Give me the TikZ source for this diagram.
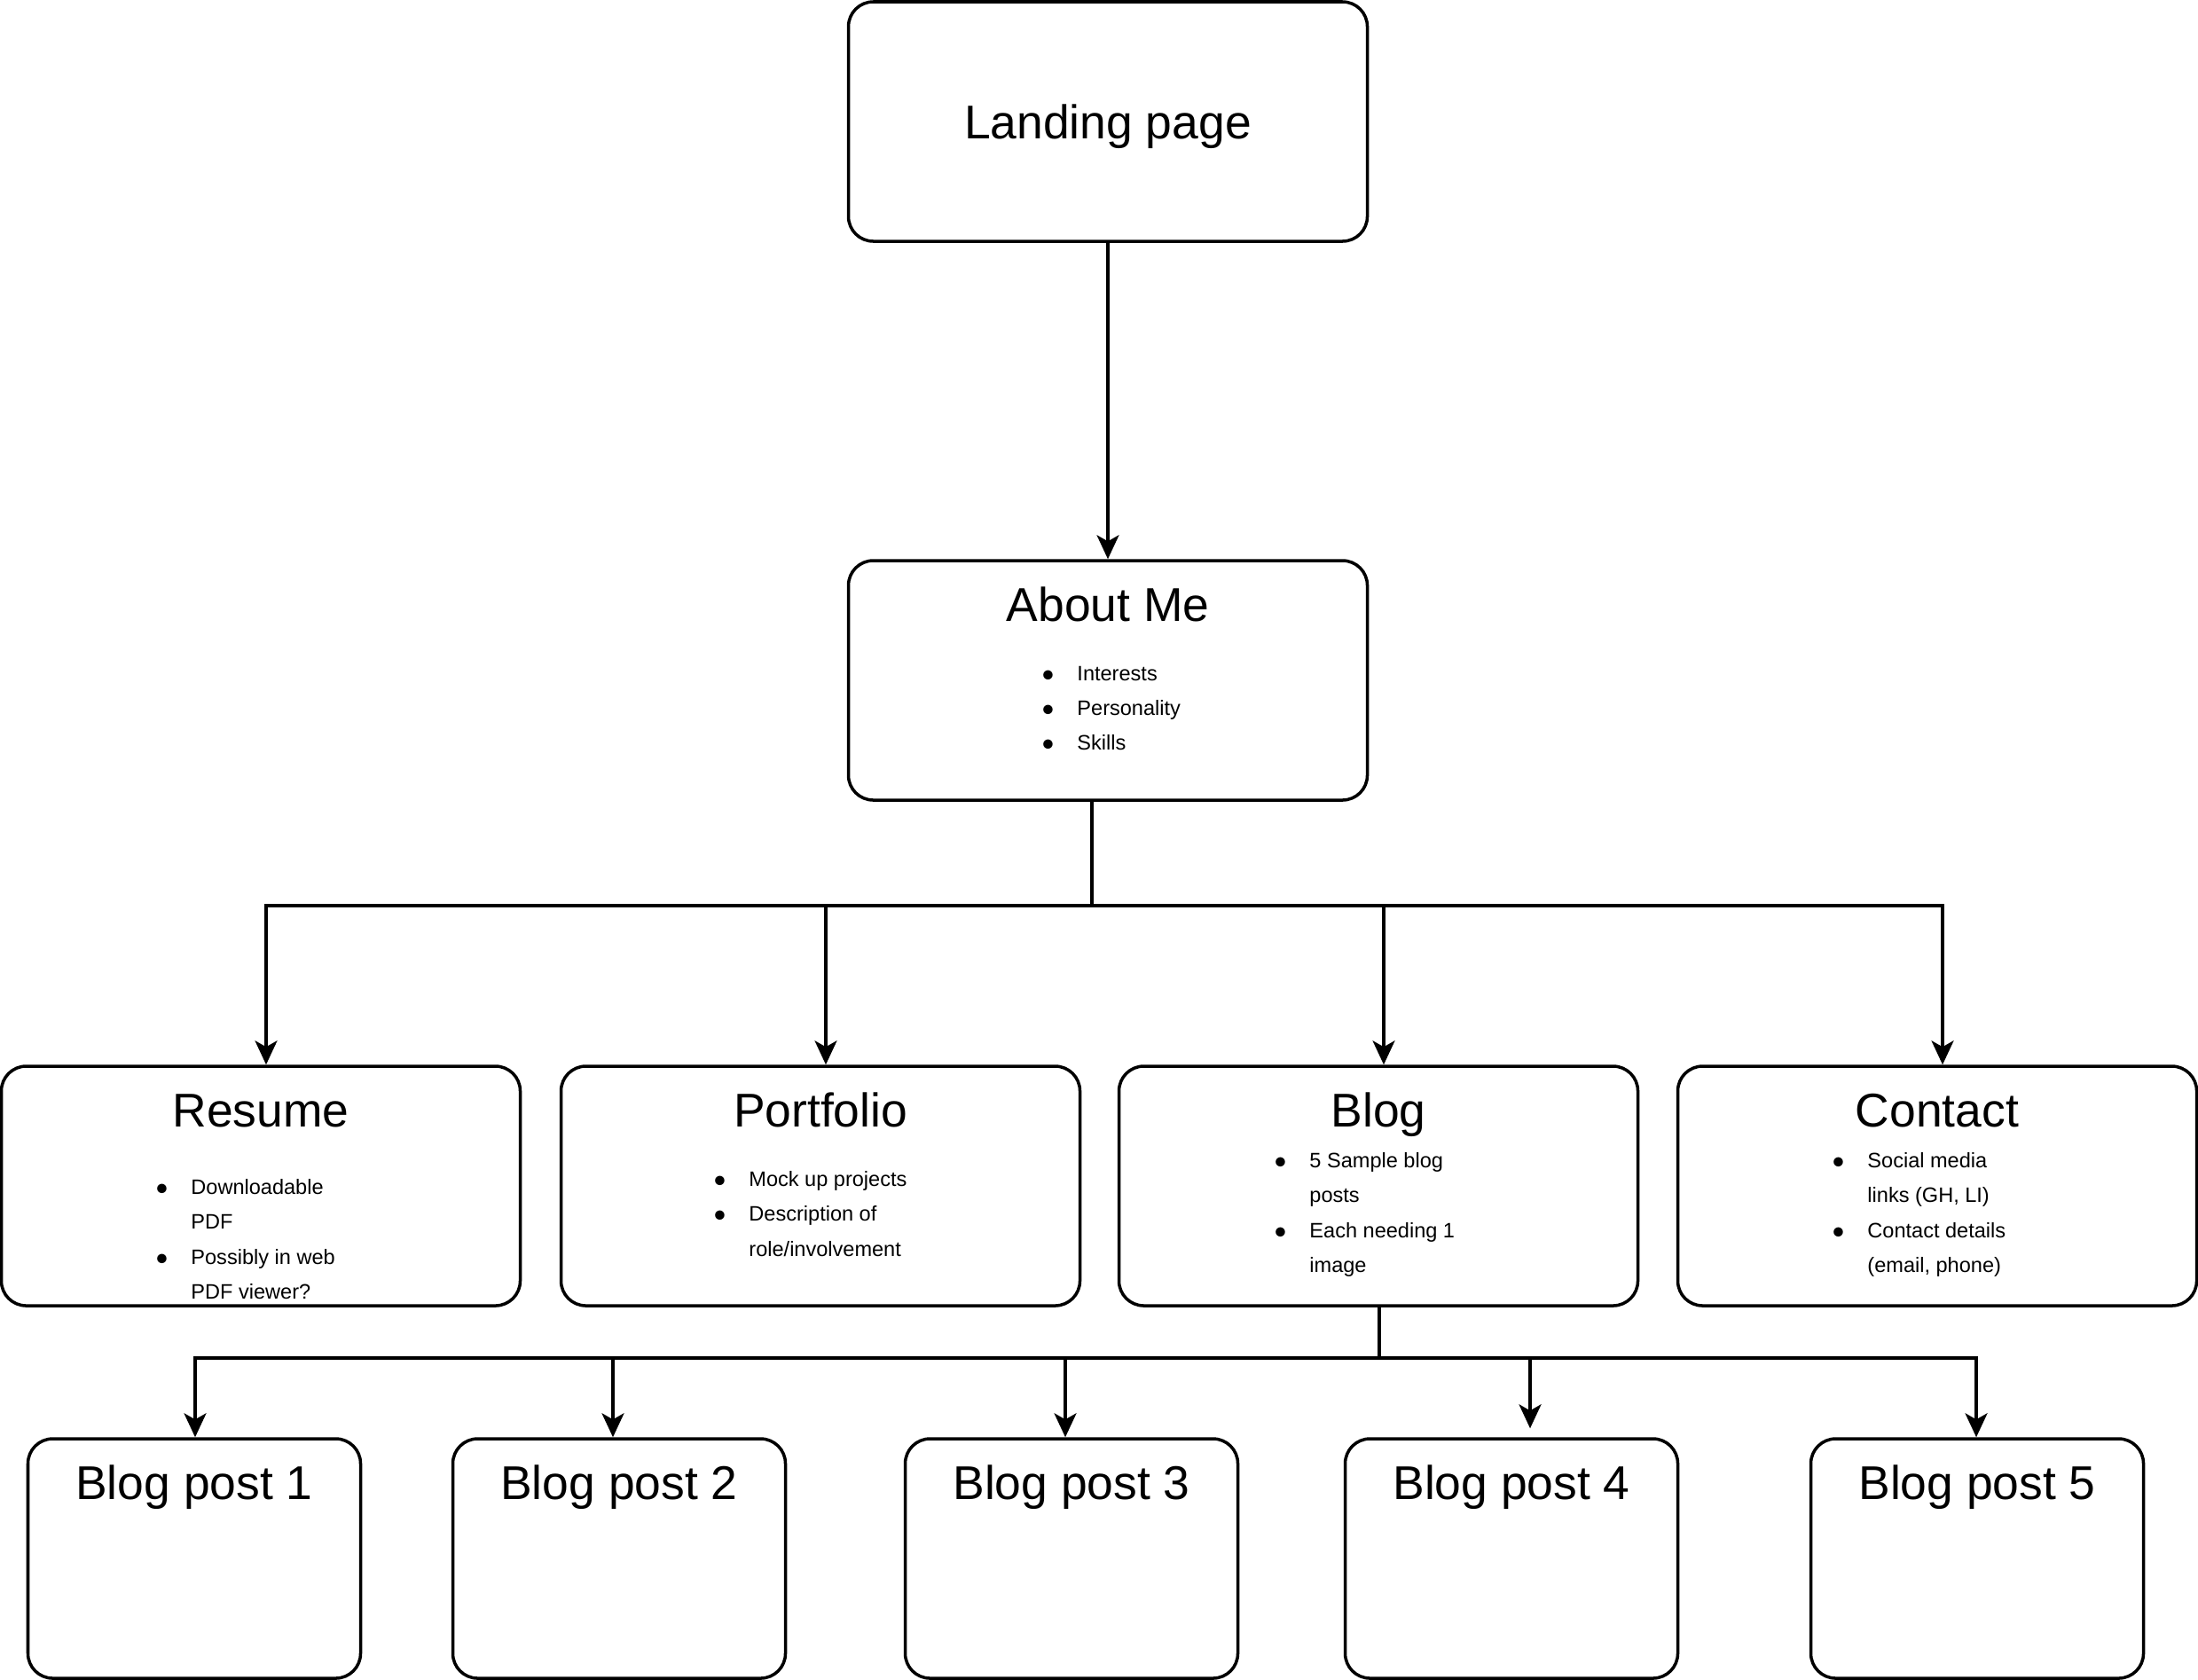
\documentclass[tikz,border=0pt]{standalone}
\usepackage{fontspec}
\setmainfont{Liberation Sans}
\usetikzlibrary{arrows.meta}

\tikzset{
  box/.style={draw, line width=1pt, rounded corners=0.28cm, minimum width=5.85cm, minimum height=2.7cm, inner sep=0pt},
  postbox/.style={box, minimum width=3.75cm},
  heading/.style={anchor=base, inner sep=0pt, font=\fontsize{15.2}{18}\selectfont},
  bullets/.style={anchor=base west, inner sep=0pt, font=\fontsize{6.7}{11.2}\selectfont},
  link/.style={line width=0.9pt},
  >={Stealth[length=0.27cm, width=0.25cm, inset=0.07cm]}
}

\newcommand{\bl}{$\bullet$}

\begin{document}
\begin{tikzpicture}
   \useasboundingbox (0, 0) rectangle (24.78, -18.93);

   \node[box] (landing) at (12.49, -1.37) {};
   \node[heading] (landingtitle) at ([yshift=-0.19cm]landing.center) {Landing page};

   \node[box] (about) at (12.49, -7.67) {};
   \node[heading] (abouttitle) at ([yshift=-0.70cm]about.north) {About Me};
   \node[bullets] (aboutlist) at ([xshift=2.19cm, yshift=-1.37cm]about.north west) {%
     \begin{tabular}[t]{@{}p{0.40cm}@{}l@{}}
       \bl & Interests\\
       \bl & Personality\\
       \bl & Skills
     \end{tabular}};

   \foreach \n/\x/\t in {resume/2.94/Resume, portfolio/9.25/Portfolio, blog/15.54/Blog, contact/21.84/Contact} {
     \node[box] (\n) at (\x, -13.37) {};
     \node[heading] (\n title) at ([yshift=-0.70cm]\n.north) {\t};
   }

   \node[bullets] (resumelist) at ([xshift=1.75cm, yshift=-1.46cm]resume.north west) {%
     \begin{tabular}[t]{@{}p{0.40cm}@{}l@{}}
       \bl & Downloadable\\
           & PDF\\
       \bl & Possibly in web\\
           & PDF viewer?
     \end{tabular}};
   \node[bullets] (portfoliolist) at ([xshift=1.73cm, yshift=-1.37cm]portfolio.north west) {%
     \begin{tabular}[t]{@{}p{0.40cm}@{}l@{}}
       \bl & Mock up projects\\
       \bl & Description of\\
           & role/involvement
     \end{tabular}};
   \node[bullets] (bloglist) at ([xshift=1.76cm, yshift=-1.16cm]blog.north west) {%
     \begin{tabular}[t]{@{}p{0.40cm}@{}l@{}}
       \bl & 5 Sample blog\\
           & posts\\
       \bl & Each needing 1\\
           & image
     \end{tabular}};
   \node[bullets] (contactlist) at ([xshift=1.75cm, yshift=-1.16cm]contact.north west) {%
     \begin{tabular}[t]{@{}p{0.40cm}@{}l@{}}
       \bl & Social media\\
           & links (GH, LI)\\
       \bl & Contact details\\
           & (email, phone)
     \end{tabular}};

   \foreach \id/\x in {1/2.19, 2/6.98, 3/12.08, 4/17.04, 5/22.29} {
     \node[postbox] (post\id) at (\x, -17.57) {};
     \node[heading] (post\id title) at ([yshift=-0.70cm]post\id.north) {Blog post \id};
   }

   % connectors
   \draw[link, ->] (landing) -- (about);

   \coordinate (fork) at (12.31, -10.21);
   \draw[link] (about.south -| fork) -- (fork);
   \foreach \n in {resume, portfolio, blog, contact}
     \draw[link, ->] (fork) -| ([xshift=0.06cm]\n.north);

   \coordinate (blogfork) at (15.55, -15.31);
   \draw[link] (blog.south -| blogfork) -- (blogfork);
   \foreach \id/\dx/\dy in {1/0.01/0, 2/-0.07/0, 3/-0.07/0, 4/0.21/0.1, 5/-0.01/0}
     \draw[link, ->] (blogfork) -| ([xshift=\dx cm, yshift=\dy cm]post\id.north);
\end{tikzpicture}
\end{document}
